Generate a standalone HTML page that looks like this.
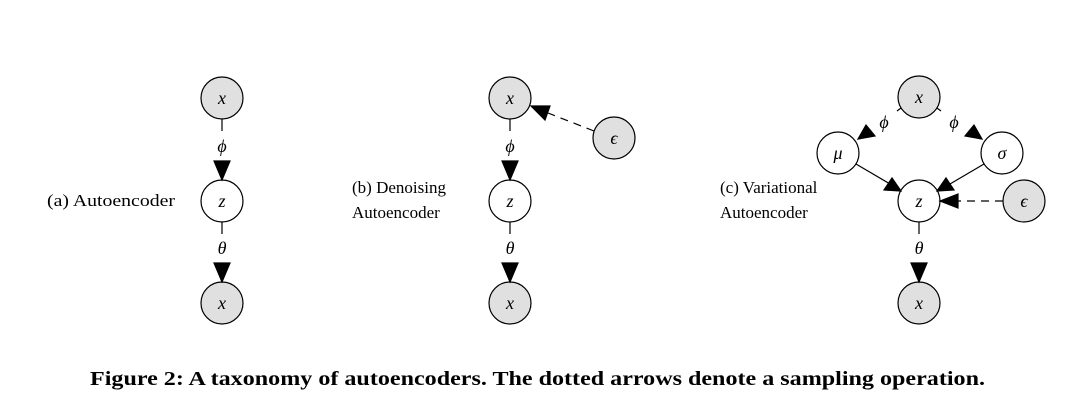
<!DOCTYPE html>
<html><head><style>body{margin:0;background:#fff}svg{display:block}</style></head><body>
<svg width="1073" height="400" xmlns="http://www.w3.org/2000/svg" font-family="Liberation Serif, serif">
<g stroke="#000" stroke-width="1.2">
<!-- panel a -->
<circle cx="222" cy="98" r="21" fill="#e0e0e0"/>
<circle cx="222" cy="201" r="21" fill="#fff"/>
<circle cx="222" cy="303" r="21" fill="#e0e0e0"/>
<line x1="222" y1="119" x2="222" y2="131"/>
<path d="M214,161 L230,161 L222,180 z" fill="#000"/>
<line x1="222" y1="222" x2="222" y2="234"/>
<path d="M214,263 L230,263 L222,282 z" fill="#000"/>
<!-- panel b -->
<circle cx="510" cy="98" r="21" fill="#e0e0e0"/>
<circle cx="510" cy="201" r="21" fill="#fff"/>
<circle cx="510" cy="303" r="21" fill="#e0e0e0"/>
<circle cx="614" cy="138" r="21" fill="#e0e0e0"/>
<line x1="510" y1="119" x2="510" y2="131"/>
<path d="M502,161 L518,161 L510,180 z" fill="#000"/>
<line x1="510" y1="222" x2="510" y2="234"/>
<path d="M502,263 L518,263 L510,282 z" fill="#000"/>
<line x1="594" y1="131" x2="548" y2="113" stroke-dasharray="8,6"/>
<path d="M531,106 L550,106 L545,120 z" fill="#000"/>
<!-- panel c -->
<circle cx="919" cy="97" r="21" fill="#e0e0e0"/>
<circle cx="838" cy="153" r="21" fill="#fff"/>
<circle cx="1002" cy="153" r="21" fill="#fff"/>
<circle cx="919" cy="201" r="21" fill="#fff"/>
<circle cx="1024" cy="201" r="21" fill="#e0e0e0"/>
<circle cx="919" cy="303" r="21" fill="#e0e0e0"/>
<line x1="901" y1="108" x2="897" y2="111"/>
<line x1="937" y1="108" x2="941" y2="111"/>
<path d="M858,139 L866,125 L875,136 z" fill="#000"/>
<path d="M982,139 L974,125 L965,136 z" fill="#000"/>
<line x1="856" y1="164" x2="890" y2="184"/>
<path d="M901,191 L884,190 L892,178 z" fill="#000"/>
<line x1="984" y1="164" x2="950" y2="184"/>
<path d="M937,191 L954,190 L946,178 z" fill="#000"/>
<line x1="1003" y1="201" x2="958" y2="201" stroke-dasharray="8,6"/>
<path d="M940,201 L958,194 L958,208 z" fill="#000"/>
<line x1="919" y1="222" x2="919" y2="234"/>
<path d="M911,263 L927,263 L919,282 z" fill="#000"/>
</g>
<g font-style="italic" font-size="18" text-anchor="middle">
<text x="222" y="104">x</text><text x="222" y="207">z</text><text x="222" y="309">x</text>
<text x="222" y="152">ϕ</text><text x="222" y="254">θ</text>
<text x="510" y="104">x</text><text x="510" y="207">z</text><text x="510" y="309">x</text>
<text x="614" y="144">ϵ</text>
<text x="510" y="152">ϕ</text><text x="510" y="254">θ</text>
<text x="919" y="103">x</text><text x="838" y="159">μ</text><text x="1002" y="159">σ</text>
<text x="919" y="207">z</text><text x="1024" y="207">ϵ</text><text x="919" y="309">x</text>
<text x="884" y="128">ϕ</text><text x="954" y="128">ϕ</text><text x="919" y="254">θ</text>
</g>
<g font-size="17">
<text x="47" y="206" textLength="128" lengthAdjust="spacingAndGlyphs">(a) Autoencoder</text>
<text x="352" y="193">(b) Denoising</text><text x="352" y="218">Autoencoder</text>
<text x="720" y="193">(c) Variational</text><text x="720" y="218">Autoencoder</text>
</g>
<text x="90" y="385" font-size="20" font-weight="bold" textLength="895" lengthAdjust="spacingAndGlyphs">Figure 2: A taxonomy of autoencoders. The dotted arrows denote a sampling operation.</text>
</svg>
</body></html>
